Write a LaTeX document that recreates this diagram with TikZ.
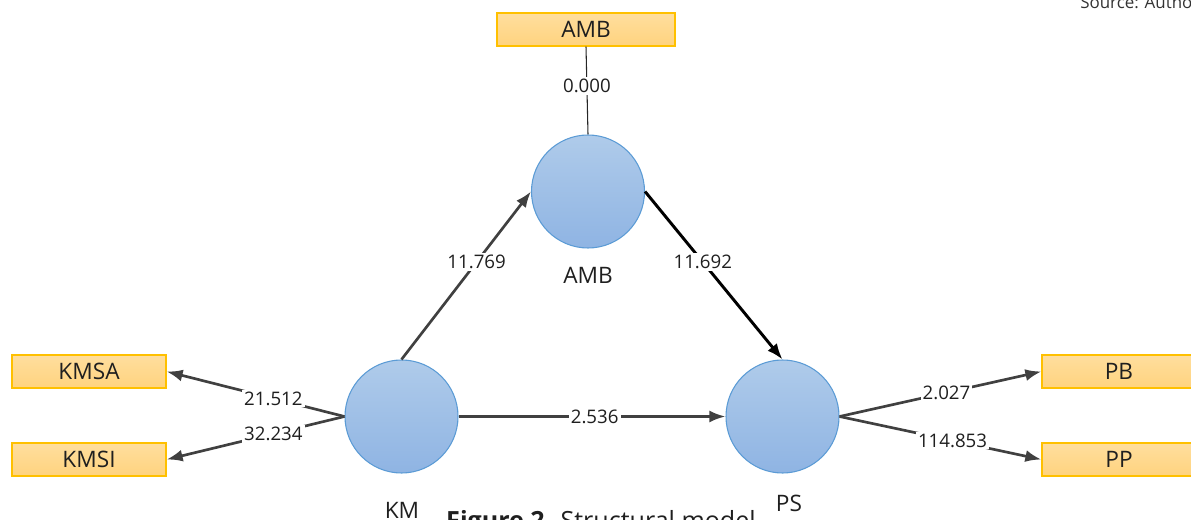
\documentclass[tikz,border=0pt]{standalone}
\usepackage{fontspec}
\setmainfont{Open Sans}
\usetikzlibrary{arrows.meta}
\definecolor{lvtop}{HTML}{AFCBEA}
\definecolor{lvbot}{HTML}{8FB4E3}
\definecolor{lvline}{HTML}{5B9BD5}
\definecolor{indtop}{HTML}{FFDE9E}
\definecolor{indbot}{HTML}{FFD37E}
\definecolor{indline}{HTML}{FFC000}
\definecolor{path}{HTML}{404040}

\begin{document}
\begin{tikzpicture}[x=0.75pt,y=-0.75pt,
  latent/.style={circle,draw=lvline,line width=0.8pt,top color=lvtop,bottom color=lvbot,minimum size=84.75pt,inner sep=0pt},
  ind/.style={rectangle,draw=indline,line width=1pt,top color=indtop,bottom color=indbot,minimum width=115.5pt,minimum height=24.75pt,inner sep=0pt,text=black!88,font=\fontsize{17}{20}\selectfont},
  lvname/.style={text=black!88,font=\fontsize{17}{20}\selectfont},
  wt/.style={fill=white,inner sep=1.5pt,text=black!88,font=\fontsize{14}{16}\selectfont},
  load/.style={color=path,line width=2pt,-{Latex[length=12pt,width=9pt]}}]
  \clip (0,0) rectangle (1191,520);
  % latent variables
  \node[latent] (amb) at (588,191.5) {};
  \node[latent] (km) at (401.5,416.5) {};
  \node[latent] (ps) at (782.5,416.5) {};
  \node[lvname] (ambt) at (588,275) {AMB};
  \node[lvname] (kmt) at (402,510) {KM};
  \node[lvname] (pst) at (789,503) {PS};
  % indicators
  \node[ind,minimum width=133.5pt] (ambi) at (586,29.5) {AMB};
  \node[ind] (kmsa) at (89,371.5) {KMSA};
  \node[ind] (kmsi) at (89,459.5) {KMSI};
  \node[ind] (pb) at (1119,371.5) {PB};
  \node[ind] (pp) at (1119,459.5) {PP};
  % paths
  \path[color=black!85,line width=0.8pt]
    (ambi.south) edge node[pos=0.45,wt] {0.000} (amb.north);
  \path[load]
    (km.west) edge node[pos=0.40,wt] {21.512} (kmsa.east)
              edge node[pos=0.40,wt] {32.234} (kmsi.east)
    (km.north) edge node[pos=0.58,wt] {11.769} (amb.west)
    (km.east) edge node[pos=0.51,wt] {2.536} (ps.west)
    (ps.east) edge node[pos=0.53,wt] {2.027} (pb.west)
              edge node[pos=0.56,wt] {114.853} (pp.west);
  \path[load,color=black,line width=2.2pt]
    (amb.east) edge node[pos=0.42,wt] {11.692} (ps.north);
  % captions
  \node[anchor=base,text=black!88,font=\fontsize{18.8}{22}\selectfont] (cap) at (601,529.5) {\textbf{Figure 2.} Structural model};
  \node[anchor=base west,inner sep=0pt,text=black!80,font=\fontsize{12.7}{15}\selectfont] (src) at (1080,9) {Source: Author};
\end{tikzpicture}
\end{document}
